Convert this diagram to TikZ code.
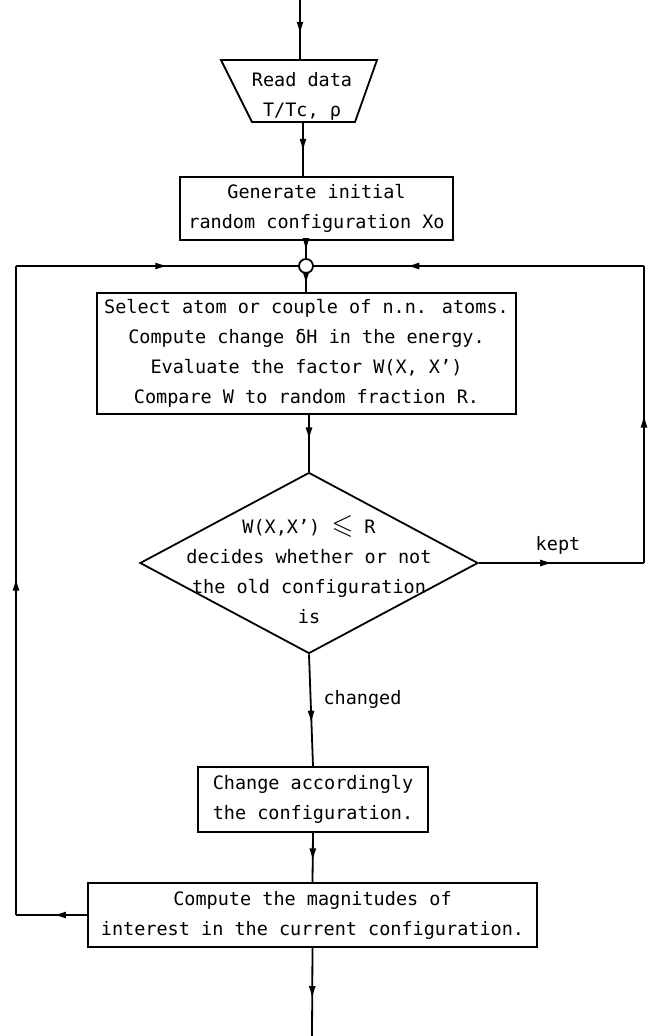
\documentclass[tikz,border=0pt]{standalone}
\usepackage{fontspec}
\usepackage{amssymb}
\newfontfamily\plotfont{DejaVu Sans Mono}
\usetikzlibrary{shapes.geometric,arrows.meta,decorations.markings}
\begin{document}
\begin{tikzpicture}[x=1pt,y=-1pt,
  every node/.style={font=\plotfont\fontsize{18.5}{30}\selectfont},
  line/.style={line width=1.8pt},
  box/.style={draw, line width=1.8pt, inner sep=0pt, align=center},
  midarrow/.style={postaction={decorate},
    decoration={markings, mark=at position #1 with {\arrow{Latex[length=13pt,width=7pt]}}}}
]
\useasboundingbox (0,0) rectangle (652,1036);

% input trapezoid
\coordinate (start) at (300,0);
\coordinate (rdtl) at (221,60);
\coordinate (rdtr) at (377,60);
\coordinate (rdbr) at (355,122);
\coordinate (rdbl) at (252,122);
\coordinate (readtop) at (300,60);
\coordinate (readbot) at (303,122);
\draw[line] (rdtl) -- (rdtr) -- (rdbr) -- (rdbl) -- cycle;
\node[inner sep=0pt, align=center] (read) at (302,96) {Read data\\T/Tc, ρ};

% boxes
\node[box, minimum width=273, minimum height=63] (box1) at (316.5,208.5)
  {Generate initial\\random configuration Xo};
\node[draw, circle, fill=white, line width=1.8pt, minimum size=14pt, inner sep=0pt] (junc) at (306,266) {};
\node[box, minimum width=419, minimum height=121] (box2) at (306.5,353.5)
  {Select atom or couple of n.n. atoms.\\Compute change δH in the energy.\\Evaluate the factor W(X, X’)\\Compare W to random fraction R.};
\node[draw, diamond, line width=1.8pt, inner sep=0pt, aspect=1.87,
  minimum width=338, minimum height=181] (dec) at (309,563) {};
\node[inner sep=0pt, align=center] (dectext) at (309,570)
  {W(X,X’) {\fontsize{28}{30}\selectfont$\leqslant$} R\\decides whether or not\\the old configuration\\is};
\node[box, minimum width=230, minimum height=65] (box3) at (313,799.5)
  {Change accordingly\\the configuration.};
\node[box, minimum width=449, minimum height=64] (box4) at (312.5,915)
  {Compute the magnitudes of\\interest in the current configuration.};

% loop corners
\coordinate (ltop) at (16,266);
\coordinate (rtop) at (644,266);
\coordinate (kr) at (644,563);
\coordinate (kl) at (16,915);
\coordinate (end) at (312,1036);

% labels
\node (kept) at (558,545) {kept};
\node[anchor=west] (changed) at (320,699) {changed};

% connectors
\draw[line, midarrow=0.58] (start) -- (readtop);
\draw[line, midarrow=0.55] (readbot) -- (readbot |- box1.north);
\draw[line, midarrow=0.6] (box1.south -| junc) -- (junc);
\draw[line, midarrow=0.6] (junc) -- (box2.north -| junc);
\draw[line, midarrow=0.45] (box2.south -| dec.north) -- (dec.north);
\draw[line, midarrow=0.45] (dec.east) -- (kr);
\draw[line, midarrow=0.5] (kr) -- (rtop);
\draw[line, midarrow=0.72] (rtop) -- (junc);
\draw[line, midarrow=0.62] (dec.south) -- (box3.north);
\draw[line, midarrow=0.58] (box3.south) -- (box4.north);
\draw[line, midarrow=0.48] (box4.west) -- (kl);
\draw[line, midarrow=0.52] (kl) -- (ltop);
\draw[line, midarrow=0.54] (ltop) -- (junc);
\draw[line, midarrow=0.58] (box4.south) -- (end);
\end{tikzpicture}
\end{document}
